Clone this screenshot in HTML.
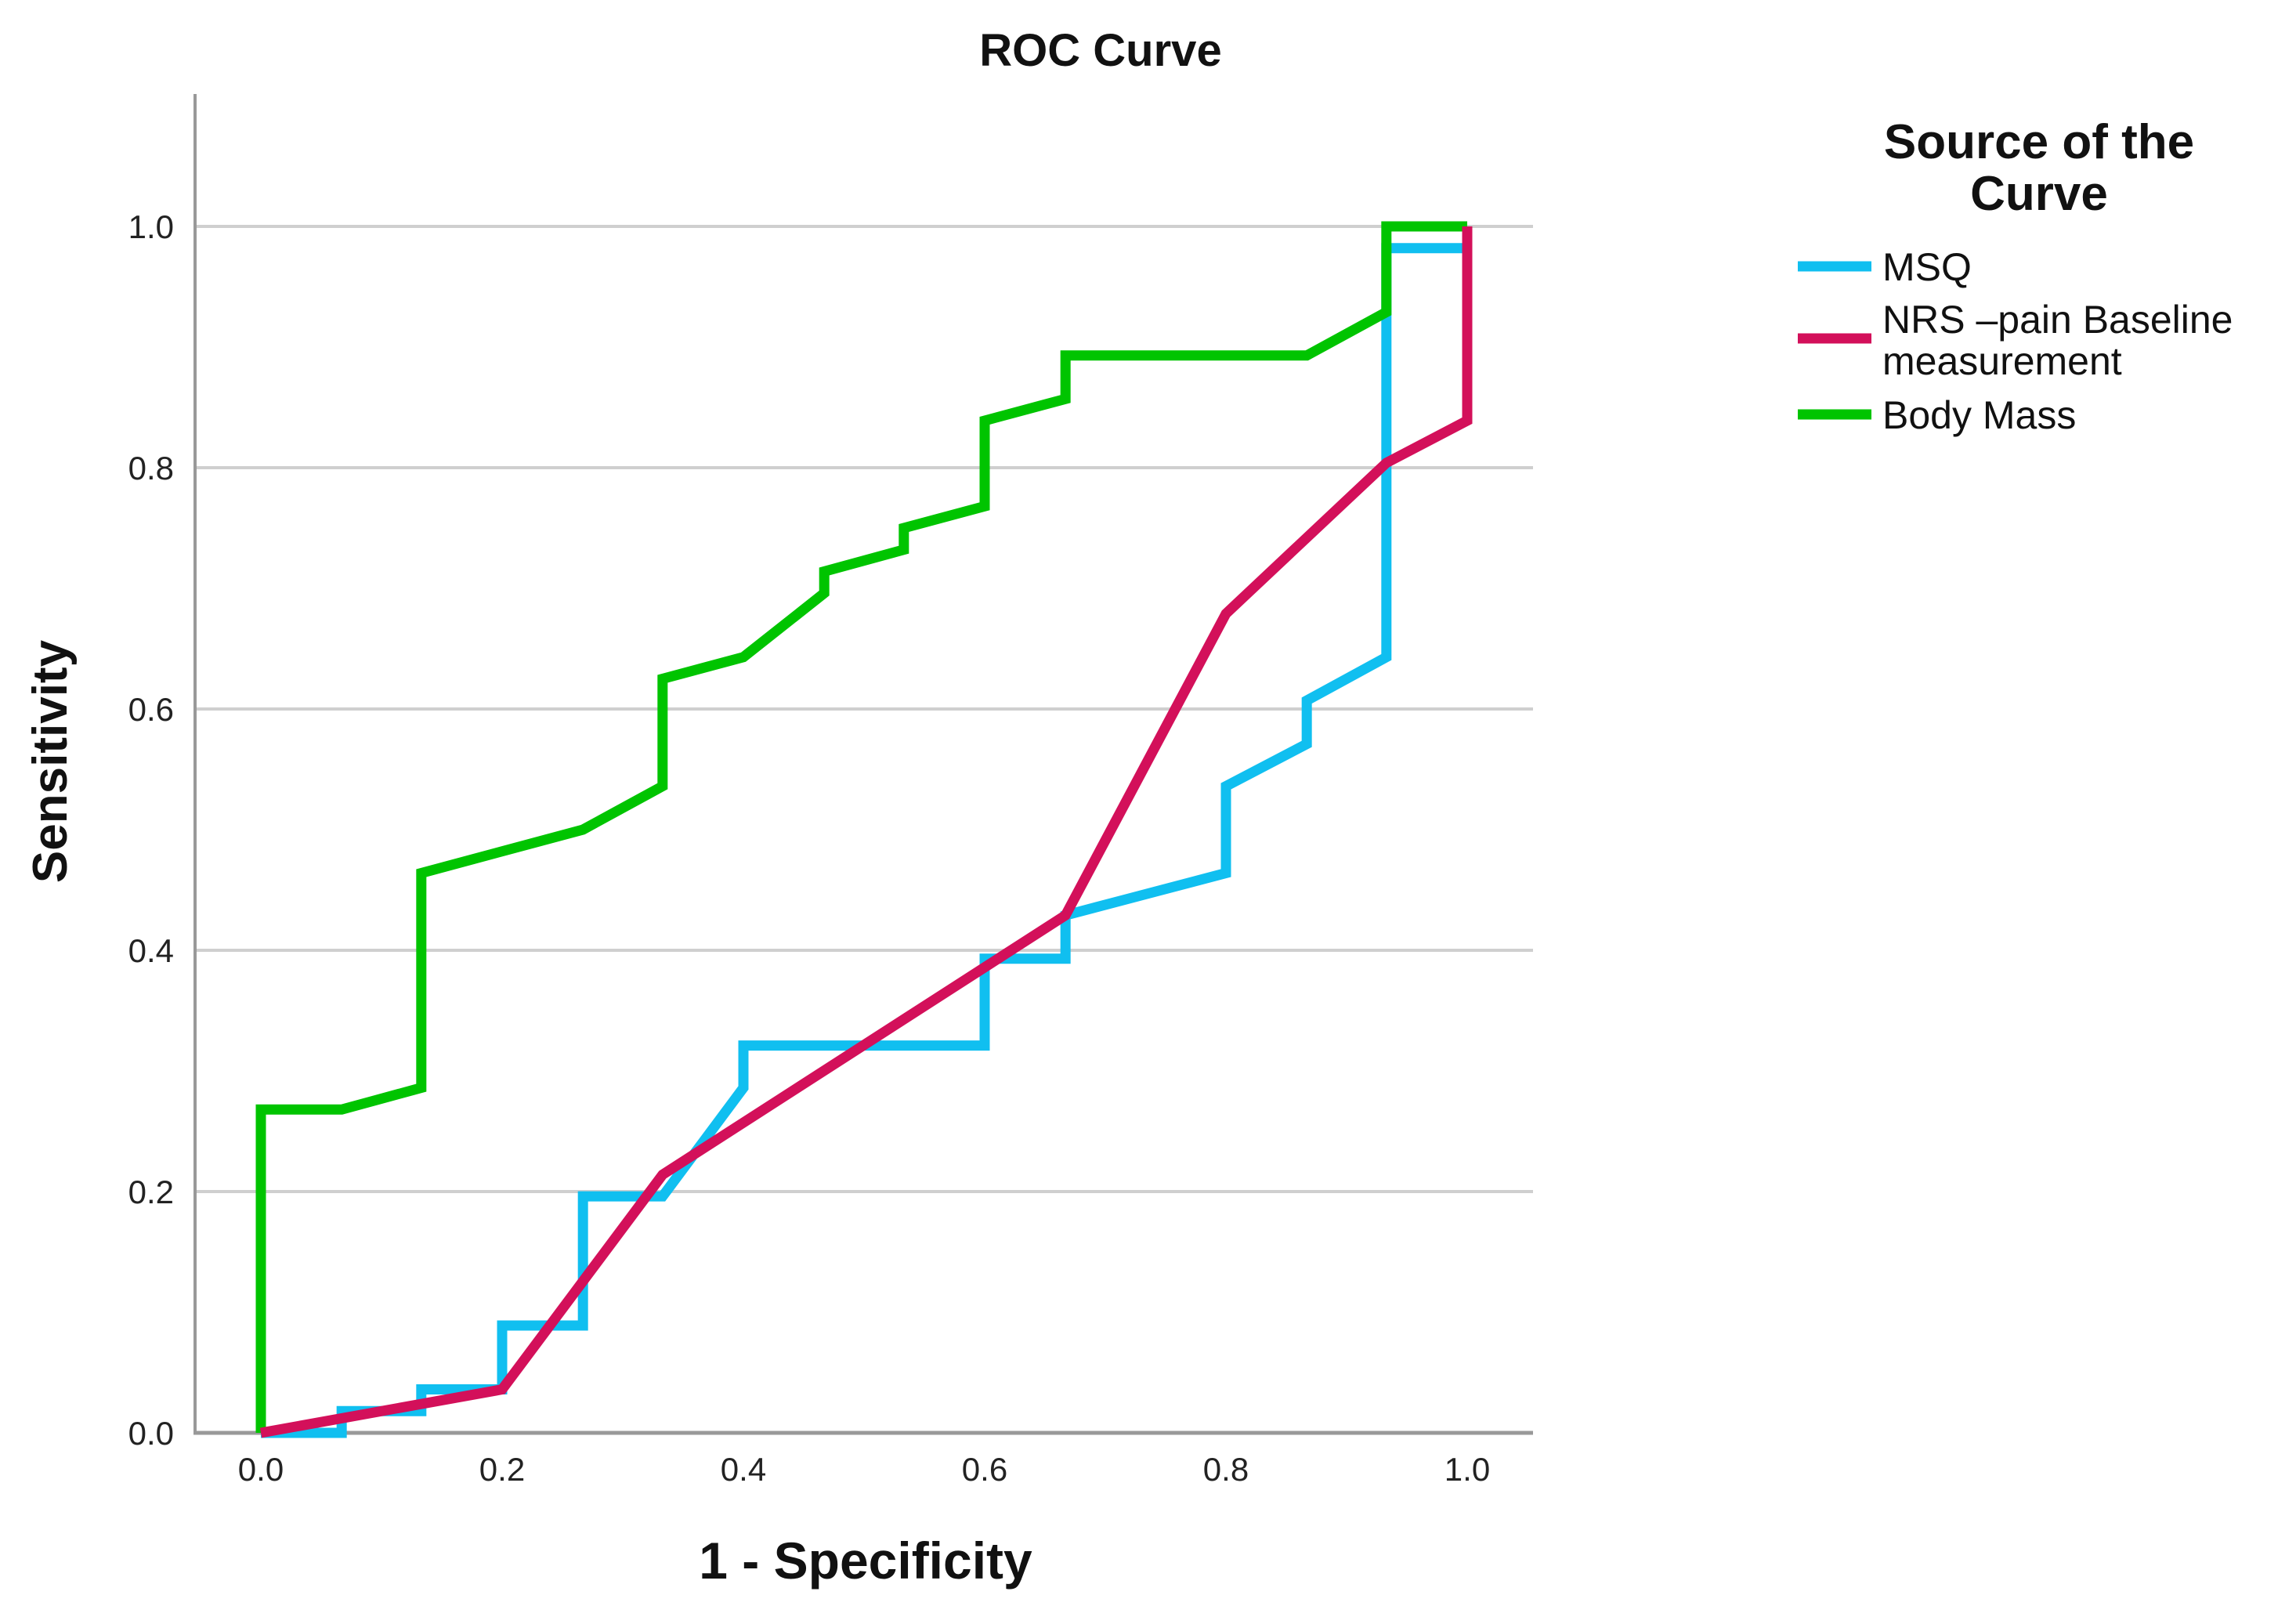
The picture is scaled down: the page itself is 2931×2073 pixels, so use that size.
<!DOCTYPE html>
<html><head><meta charset="utf-8"><style>
html,body{margin:0;padding:0;background:#fff;}
svg{display:block;font-family:"Liberation Sans","DejaVu Sans",sans-serif;}
</style></head><body>
<svg id="chart" width="2931" height="2073" viewBox="0 0 2931 2073">
<rect width="2931" height="2073" fill="#fff"/>
<text x="1405" y="84" font-size="58" font-weight="bold" text-anchor="middle" fill="#111">ROC Curve</text>
<g id="grid"></g>
<g id="axes"></g>
<g id="series"></g>
<text x="1105" y="2015" font-size="66" font-weight="bold" text-anchor="middle" fill="#111">1 - Specificity</text>
<text transform="translate(85,972) rotate(-90)" font-size="62" font-weight="bold" text-anchor="middle" fill="#111">Sensitivity</text>
<g>
<text x="2603" y="202" font-size="62" font-weight="bold" text-anchor="middle" fill="#111">Source of the</text>
<text x="2603" y="268" font-size="62" font-weight="bold" text-anchor="middle" fill="#111">Curve</text>
<line x1="2295" y1="340" x2="2389" y2="340" stroke="#10bff0" stroke-width="13"/>
<text x="2403" y="358" font-size="50" fill="#111">MSQ</text>
<line x1="2295" y1="432" x2="2389" y2="432" stroke="#d3105a" stroke-width="13"/>
<text x="2403" y="425" font-size="50" fill="#111">NRS –pain Baseline</text>
<text x="2403" y="478" font-size="50" fill="#111">measurement</text>
<line x1="2295" y1="529" x2="2389" y2="529" stroke="#00c400" stroke-width="13"/>
<text x="2403" y="547" font-size="50" fill="#111">Body Mass</text>
</g>
</svg>
<script>
const tickValues = [0, 0.2, 0.4, 0.6, 0.8, 1.0];
const tickLabels = ["0.0", "0.2", "0.4", "0.6", "0.8", "1.0"];
const msqX = [0,0.067,0.067,0.133,0.133,0.2,0.2,0.267,0.267,0.333,0.4,0.4,0.6,0.6,0.667,0.667,0.8,0.8,0.867,0.867,0.933,0.933,1,1];
const msqY = [0,0,0.018,0.018,0.036,0.036,0.089,0.089,0.196,0.196,0.286,0.321,0.321,0.393,0.393,0.429,0.464,0.536,0.571,0.607,0.643,0.982,0.982,1];
const nrsX = [0,0.2,0.333,0.667,0.8,0.933,1,1];
const nrsY = [0,0.036,0.214,0.429,0.679,0.804,0.839,1];
const bodyX = [0,0,0.067,0.133,0.133,0.267,0.333,0.333,0.4,0.467,0.467,0.533,0.533,0.6,0.6,0.667,0.667,0.867,0.933,0.933,1];
const bodyY = [0,0.268,0.268,0.286,0.464,0.5,0.536,0.625,0.643,0.696,0.714,0.732,0.75,0.768,0.839,0.857,0.893,0.893,0.929,1,1];

const NS = "http://www.w3.org/2000/svg";
const X0 = 333, X1 = 1873, Y0 = 1829, Y1 = 289;
function sx(v){ return X0 + v*(X1-X0); }
function sy(v){ return Y0 - v*(Y0-Y1); }
function mk(tag, attrs, parent){
  const e = document.createElementNS(NS, tag);
  for (const k in attrs) e.setAttribute(k, attrs[k]);
  parent.appendChild(e);
  return e;
}
const grid = document.getElementById('grid');
const axes = document.getElementById('axes');
const series = document.getElementById('series');

tickValues.forEach((v,i)=>{
  if (v > 0) {
    const g = mk('line',{x1:249,x2:1957,y1:sy(v),y2:sy(v),stroke:'#cfcfcf','stroke-width':4},grid);
    
    
  }
  const yl = mk('text',{x:222,y:sy(v)+15,'font-size':42,'text-anchor':'end',fill:'#222'},axes);
  yl.textContent = tickLabels[i];
  
  
  const xl = mk('text',{x:sx(v),y:1890,'font-size':42,'text-anchor':'middle',fill:'#222'},axes);
  xl.textContent = tickLabels[i];
  
  
});
const ya = mk('line',{x1:249,x2:249,y1:120,y2:1831,stroke:'#999','stroke-width':4},axes);


const xa = mk('line',{x1:247,x2:1957,y1:1829,y2:1829,stroke:'#999','stroke-width':5},axes);



function drawLine(xs, ys, color, name){
  const pts = xs.map((x,i)=>sx(x)+','+sy(ys[i])).join(' ');
  const p = mk('polyline',{points:pts,fill:'none',stroke:color,'stroke-width':13,'stroke-linejoin':'miter'},series);
  
  
}
drawLine(msqX, msqY, '#10bff0', 'msq-curve');
drawLine(bodyX, bodyY, '#00c400', 'body-mass-curve');
drawLine(nrsX, nrsY, '#d3105a', 'nrs-curve');
</script>
</body></html>
